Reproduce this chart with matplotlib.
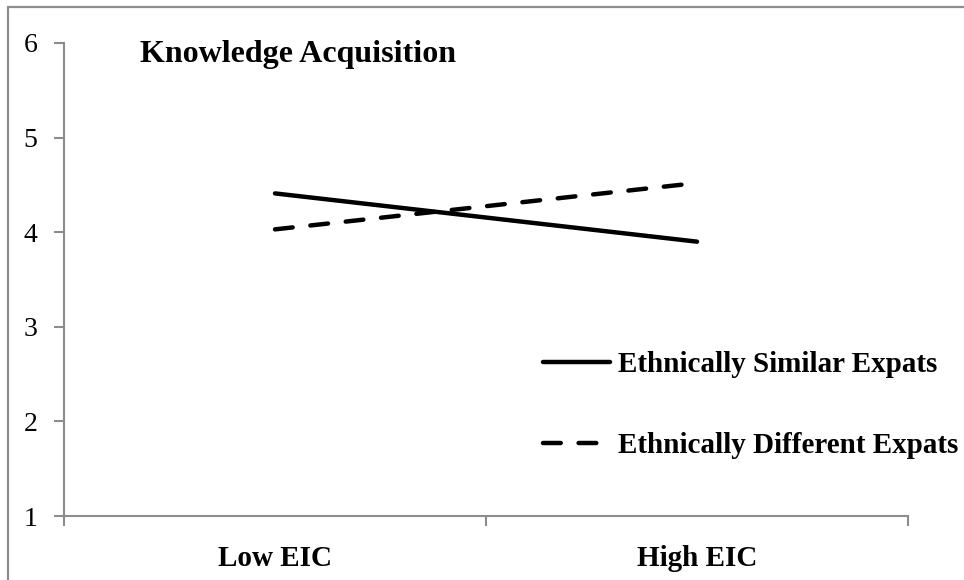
import matplotlib
matplotlib.use("Agg")
import matplotlib.pyplot as plt
from matplotlib.patches import Rectangle

categories = ["Low EIC", "High EIC"]
similar = [4.41, 3.90]
different = [4.03, 4.52]
series_labels = ["Ethnically Similar Expats", "Ethnically Different Expats"]
yticks = [1, 2, 3, 4, 5, 6]
title = "Knowledge Acquisition"

plt.rcParams['font.family'] = ['Liberation Serif', 'DejaVu Serif']

fig = plt.figure(figsize=(9.64, 5.8), dpi=100)
ax = fig.add_axes([64/964, 1-516/580, (908-64)/964, (516-43)/580])

x = list(range(len(categories)))
ax.plot(x, similar, color='black', lw=3.2, solid_capstyle='round', label=series_labels[0])
ax.plot(x, different, color='black', lw=3.2, dashes=(4.0, 4.0), dash_capstyle='round', label=series_labels[1])

ax.set_xlim(-0.5, len(categories) - 0.5)
ax.set_ylim(1, 6)
ax.set_yticks(yticks)
ax.set_yticklabels([str(v) for v in yticks], fontsize=20)

ax.set_xticks([i - 0.5 for i in range(len(categories) + 1)])
ax.set_xticklabels([])
ax.set_xticks(x, minor=True)
ax.set_xticklabels(categories, minor=True, fontsize=21, fontweight='bold')
ax.tick_params(axis='x', which='minor', length=0, pad=21)
ax.tick_params(axis='x', which='major', length=7, width=1.5, color='#8c8c8c', direction='out')
ax.tick_params(axis='y', length=7, width=1.5, color='#8c8c8c', direction='out', pad=12)

for s in ['top', 'right']:
    ax.spines[s].set_visible(False)
for s in ['left', 'bottom']:
    ax.spines[s].set_color('#8c8c8c')
    ax.spines[s].set_linewidth(1.5)

fig.text(140/964, 1-62/580, title, fontsize=23, fontweight='bold', ha='left', va='baseline')

leg = ax.legend(loc='upper left', bbox_to_anchor=(543/964, 1-351/580), bbox_transform=fig.transFigure,
                frameon=False, prop={'size': 21, 'weight': 'bold'}, handlelength=2.3,
                handletextpad=0.28, labelspacing=1.85, borderpad=0, borderaxespad=0)

fig.patches.append(Rectangle((8/964, -0.1), 2.0, 1.1 - 7/580, transform=fig.transFigure,
                             fill=False, edgecolor='#8c8c8c', lw=1.6, figure=fig))

fig.savefig("out.png", dpi=100)
